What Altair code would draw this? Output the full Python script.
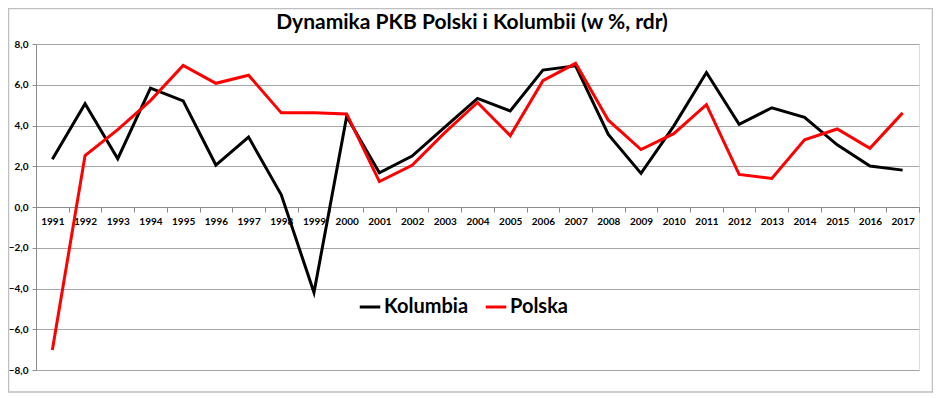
import altair as alt
import pandas as pd

years = list(range(1991, 2018))
kolumbia = [2.34, 5.07, 2.37, 5.83, 5.21, 2.06, 3.43, 0.60, -4.20, 4.44,
            1.68, 2.50, 3.92, 5.33, 4.71, 6.72, 6.93, 3.56, 1.65, 3.97,
            6.60, 4.06, 4.87, 4.40, 3.05, 2.01, 1.81]
polska = [-7.02, 2.53, 3.80, 5.22, 6.95, 6.07, 6.47, 4.62, 4.63, 4.57,
          1.25, 2.05, 3.65, 5.13, 3.50, 6.20, 7.05, 4.26, 2.82, 3.60,
          5.02, 1.60, 1.40, 3.30, 3.83, 2.88, 4.62]
series = ["Kolumbia", "Polska"]
colors = ["#000000", "#ff0000"]
y_ticks = [-8, -6, -4, -2, 0, 2, 4, 6, 8]
title_text = "Dynamika PKB Polski i Kolumbii (w %, rdr)"

rows = []
for name, vals in zip(series, [kolumbia, polska]):
    for yr, v in zip(years, vals):
        rows.append({"Rok": yr, "Kraj": name, "Wartosc": v})
df = pd.DataFrame(rows)

W, H = 883, 326
FONT = "Lato"

lines = alt.Chart(df).mark_line(strokeWidth=3, clip=False).encode(
    x=alt.X("Rok:O",
            scale=alt.Scale(type="band", paddingInner=0, paddingOuter=0),
            axis=alt.Axis(title=None, offset=-H / 2, tickBand="extent",
                          labelAngle=0, labelFont=FONT, labelFontWeight="bold",
                          labelFontSize=10, labelColor="#000000",
                          domainColor="#8c8c8c", tickColor="#8c8c8c",
                          tickSize=5, labelPadding=4, grid=False)),
    y=alt.Y("Wartosc:Q",
            scale=alt.Scale(domain=[-8, 8], nice=False, zero=False),
            axis=alt.Axis(title=None, values=y_ticks,
                          labelExpr="replace(format(datum.value, '.1f'), '.', ',')",
                          grid=True, gridColor="#a6a6a6", gridWidth=1,
                          domainColor="#8c8c8c", tickColor="#8c8c8c",
                          tickSize=4, labelFont=FONT, labelFontWeight="bold",
                          labelFontSize=10, labelColor="#000000",
                          labelPadding=4)),
    color=alt.Color("Kraj:N",
                    scale=alt.Scale(domain=series, range=colors),
                    legend=alt.Legend(title=None, orient="none",
                                      legendX=322, legendY=251,
                                      direction="horizontal",
                                      symbolType="stroke", symbolStrokeWidth=3,
                                      symbolSize=420, labelFont=FONT,
                                      labelFontSize=20, labelFontWeight="bold",
                                      labelColor="#000000", columnPadding=10,
                                      labelOffset=2)),
)

one = alt.Data(values=[{"t": title_text}])

border = alt.Chart(one).mark_rect(
    filled=False, stroke="#bfbfbf", strokeWidth=1.5, clip=False
).encode(
    x=alt.value(-27.5), x2=alt.value(W + 13.5),
    y=alt.value(-35.5), y2=alt.value(H + 22),
)

title = alt.Chart(one).mark_text(
    font=FONT, fontSize=21, fontWeight="bold", color="#000000",
    align="center", baseline="alphabetic", clip=False
).encode(
    text=alt.Text("t:N"),
    x=alt.value(436), y=alt.value(-15),
)

chart = alt.layer(border, lines, title).properties(
    width=W, height=H,
    autosize=alt.AutoSizeParams(type="none"),
    padding={"left": 28, "top": 36, "right": 14, "bottom": 23},
).configure_view(stroke=None).configure(background="white")

chart.save("out.html", embed_options={"renderer": "svg", "actions": False})
